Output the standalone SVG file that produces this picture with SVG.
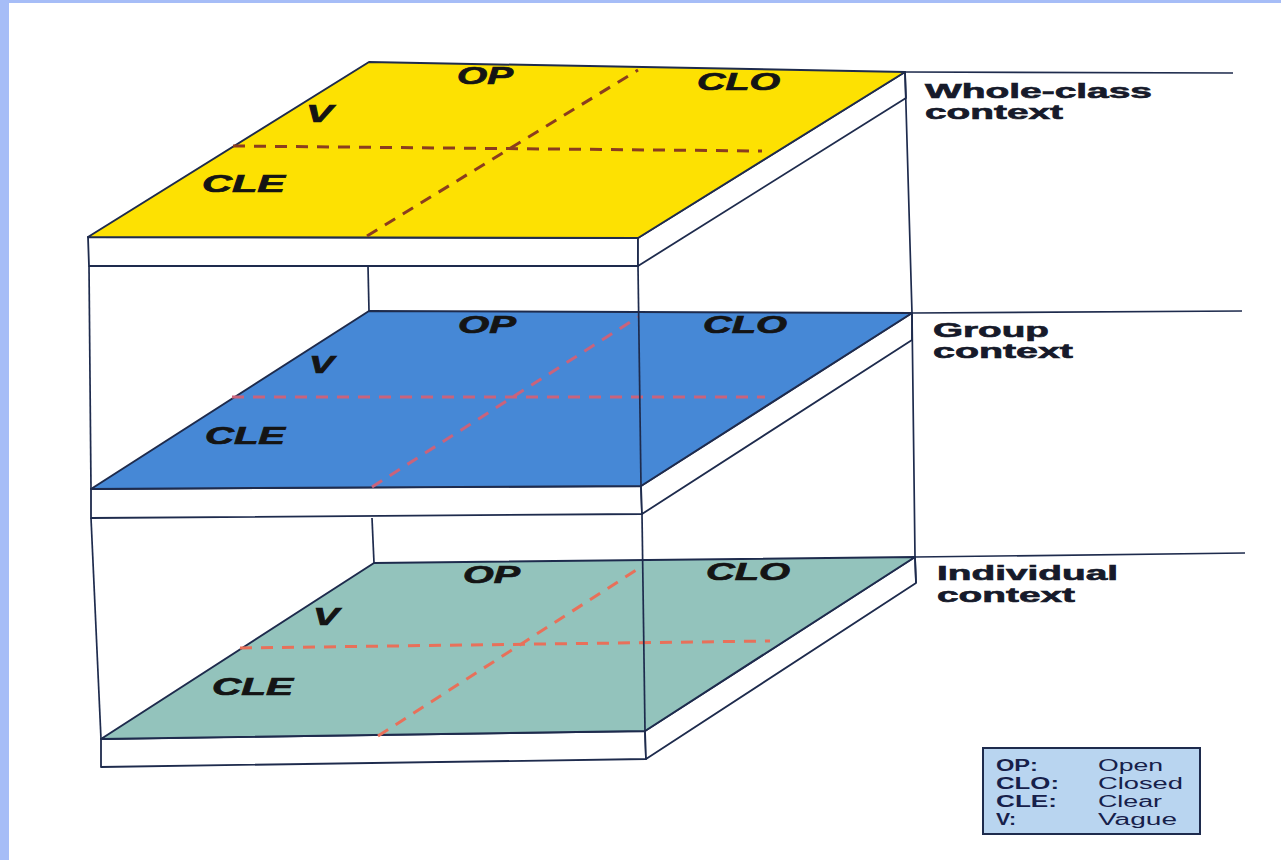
<svg xmlns="http://www.w3.org/2000/svg" width="1281" height="860" viewBox="0 0 1281 860">
<style>
.edge{stroke:#1e2b4d;stroke-width:2;stroke-linejoin:round;fill:none}
.thin{stroke:#1e2b4d;stroke-width:1.7;fill:none}
.slab{fill:#ffffff;stroke:#1e2b4d;stroke-width:1.8;stroke-linejoin:round}
.dash{stroke-width:3;stroke-dasharray:12 9;fill:none}
.fl{font-family:"Liberation Sans",Arial,sans-serif;font-weight:bold;font-style:italic;font-size:23.5px;fill:#141414;stroke:#141414;stroke-width:0.7}
.ctx{font-family:"Liberation Sans",Arial,sans-serif;font-weight:bold;font-size:19.5px;fill:#161a2a;stroke:#161a2a;stroke-width:0.6}
.lk{font-family:"Liberation Sans",Arial,sans-serif;font-weight:bold;font-size:16px;fill:#16204a}
.lv{font-family:"Liberation Sans",Arial,sans-serif;font-size:16px;fill:#16204a}
</style>
<rect x="0" y="0" width="1281" height="860" fill="#ffffff"/>
<rect x="0" y="0" width="1281" height="3" fill="#a6bdf7"/>
<rect x="0" y="0" width="9" height="860" fill="#a6bdf7"/>

<g id="layer-individual">
  <polygon class="slab" points="101,739 645,731 646,759 101,767"/>
  <polygon class="slab" points="645,731 915,557 916,583 646,759"/>
  <polygon points="374,563 915,557 645,731 101,739" fill="#93c3bc" stroke="#1e2b4d" stroke-width="2" stroke-linejoin="round"/>
  <line class="dash" x1="240" y1="648" x2="770" y2="641" stroke="#e8705a"/>
  <line class="dash" x1="378" y1="736" x2="641" y2="567" stroke="#e8705a"/>
  <text class="fl" x="463" y="583" textLength="57" lengthAdjust="spacingAndGlyphs">OP</text>
  <text class="fl" x="706" y="580" textLength="84" lengthAdjust="spacingAndGlyphs">CLO</text>
  <text class="fl" x="313" y="625" textLength="26" lengthAdjust="spacingAndGlyphs">V</text>
  <text class="fl" x="212" y="695" textLength="81" lengthAdjust="spacingAndGlyphs">CLE</text>
</g>

<g id="layer-group">
  <polygon class="slab" points="91,489 641,486 642,514 91,518"/>
  <polygon class="slab" points="641,486 912,313 912,340 642,514"/>
  <polygon points="369,311 912,313 641,486 91,489" fill="#4688d6" stroke="#1e2b4d" stroke-width="2" stroke-linejoin="round"/>
  <line class="dash" x1="232" y1="397" x2="765" y2="397" stroke="#c9637c"/>
  <line class="dash" x1="372" y1="487" x2="638" y2="317" stroke="#c9637c"/>
  <text class="fl" x="458" y="333" textLength="58" lengthAdjust="spacingAndGlyphs">OP</text>
  <text class="fl" x="703" y="333" textLength="84" lengthAdjust="spacingAndGlyphs">CLO</text>
  <text class="fl" x="309" y="373" textLength="25" lengthAdjust="spacingAndGlyphs">V</text>
  <text class="fl" x="205" y="444" textLength="80" lengthAdjust="spacingAndGlyphs">CLE</text>
</g>

<g id="layer-whole-class">
  <polygon class="slab" points="88,237 638,238 638,266 89,266"/>
  <polygon class="slab" points="638,238 905,72 906,98 638,266"/>
  <polygon points="369,62 905,72 638,238 88,237" fill="#fde102" stroke="#1e2b4d" stroke-width="2" stroke-linejoin="round"/>
  <line class="dash" x1="233" y1="146" x2="762" y2="151" stroke="#8b3d1e"/>
  <line class="dash" x1="367" y1="236" x2="638" y2="70" stroke="#8b3d1e"/>
  <text class="fl" x="457" y="84" textLength="56" lengthAdjust="spacingAndGlyphs">OP</text>
  <text class="fl" x="697" y="90" textLength="83" lengthAdjust="spacingAndGlyphs">CLO</text>
  <text class="fl" x="306" y="122" textLength="27" lengthAdjust="spacingAndGlyphs">V</text>
  <text class="fl" x="202" y="192" textLength="83" lengthAdjust="spacingAndGlyphs">CLE</text>
</g>

<g id="connectors">
  <polyline class="thin" points="89,266 91,489"/>
  <polyline class="thin" points="91,518 101,739"/>
  <polyline class="thin" points="638,266 641,486"/>
  <polyline class="thin" points="642,514 645,731"/>
  <polyline class="thin" points="905,72 912,313 915,557 916,583"/>
  <line class="thin" x1="368" y1="266" x2="369" y2="311"/>
  <line class="thin" x1="372" y1="518" x2="374" y2="563"/>
  <line class="thin" x1="905" y1="72" x2="1233" y2="73"/>
  <line class="thin" x1="912" y1="313" x2="1242" y2="311"/>
  <line class="thin" x1="915" y1="557" x2="1245" y2="553"/>
</g>

<g id="label-whole-class">
  <text class="ctx" x="925" y="98" textLength="227" lengthAdjust="spacingAndGlyphs">Whole-class</text>
  <text class="ctx" x="925" y="119" textLength="138" lengthAdjust="spacingAndGlyphs">context</text>
</g>
<g id="label-group">
  <text class="ctx" x="933" y="337" textLength="116" lengthAdjust="spacingAndGlyphs">Group</text>
  <text class="ctx" x="933" y="358" textLength="140" lengthAdjust="spacingAndGlyphs">context</text>
</g>
<g id="label-individual">
  <text class="ctx" x="937" y="580" textLength="181" lengthAdjust="spacingAndGlyphs">Individual</text>
  <text class="ctx" x="937" y="602" textLength="138" lengthAdjust="spacingAndGlyphs">context</text>
</g>

<g id="legend">
  <rect x="983" y="748" width="217" height="86" fill="#b9d5f0" stroke="#1e2b4d" stroke-width="2"/>
  <text class="lk" x="996" y="771" textLength="42" lengthAdjust="spacingAndGlyphs">OP:</text>
  <text class="lk" x="996" y="789" textLength="63" lengthAdjust="spacingAndGlyphs">CLO:</text>
  <text class="lk" x="996" y="807" textLength="61" lengthAdjust="spacingAndGlyphs">CLE:</text>
  <text class="lk" x="996" y="825" textLength="20" lengthAdjust="spacingAndGlyphs">V:</text>
  <text class="lv" x="1098" y="771" textLength="65" lengthAdjust="spacingAndGlyphs">Open</text>
  <text class="lv" x="1098" y="789" textLength="85" lengthAdjust="spacingAndGlyphs">Closed</text>
  <text class="lv" x="1098" y="807" textLength="64" lengthAdjust="spacingAndGlyphs">Clear</text>
  <text class="lv" x="1098" y="825" textLength="79" lengthAdjust="spacingAndGlyphs">Vague</text>
</g>
</svg>
